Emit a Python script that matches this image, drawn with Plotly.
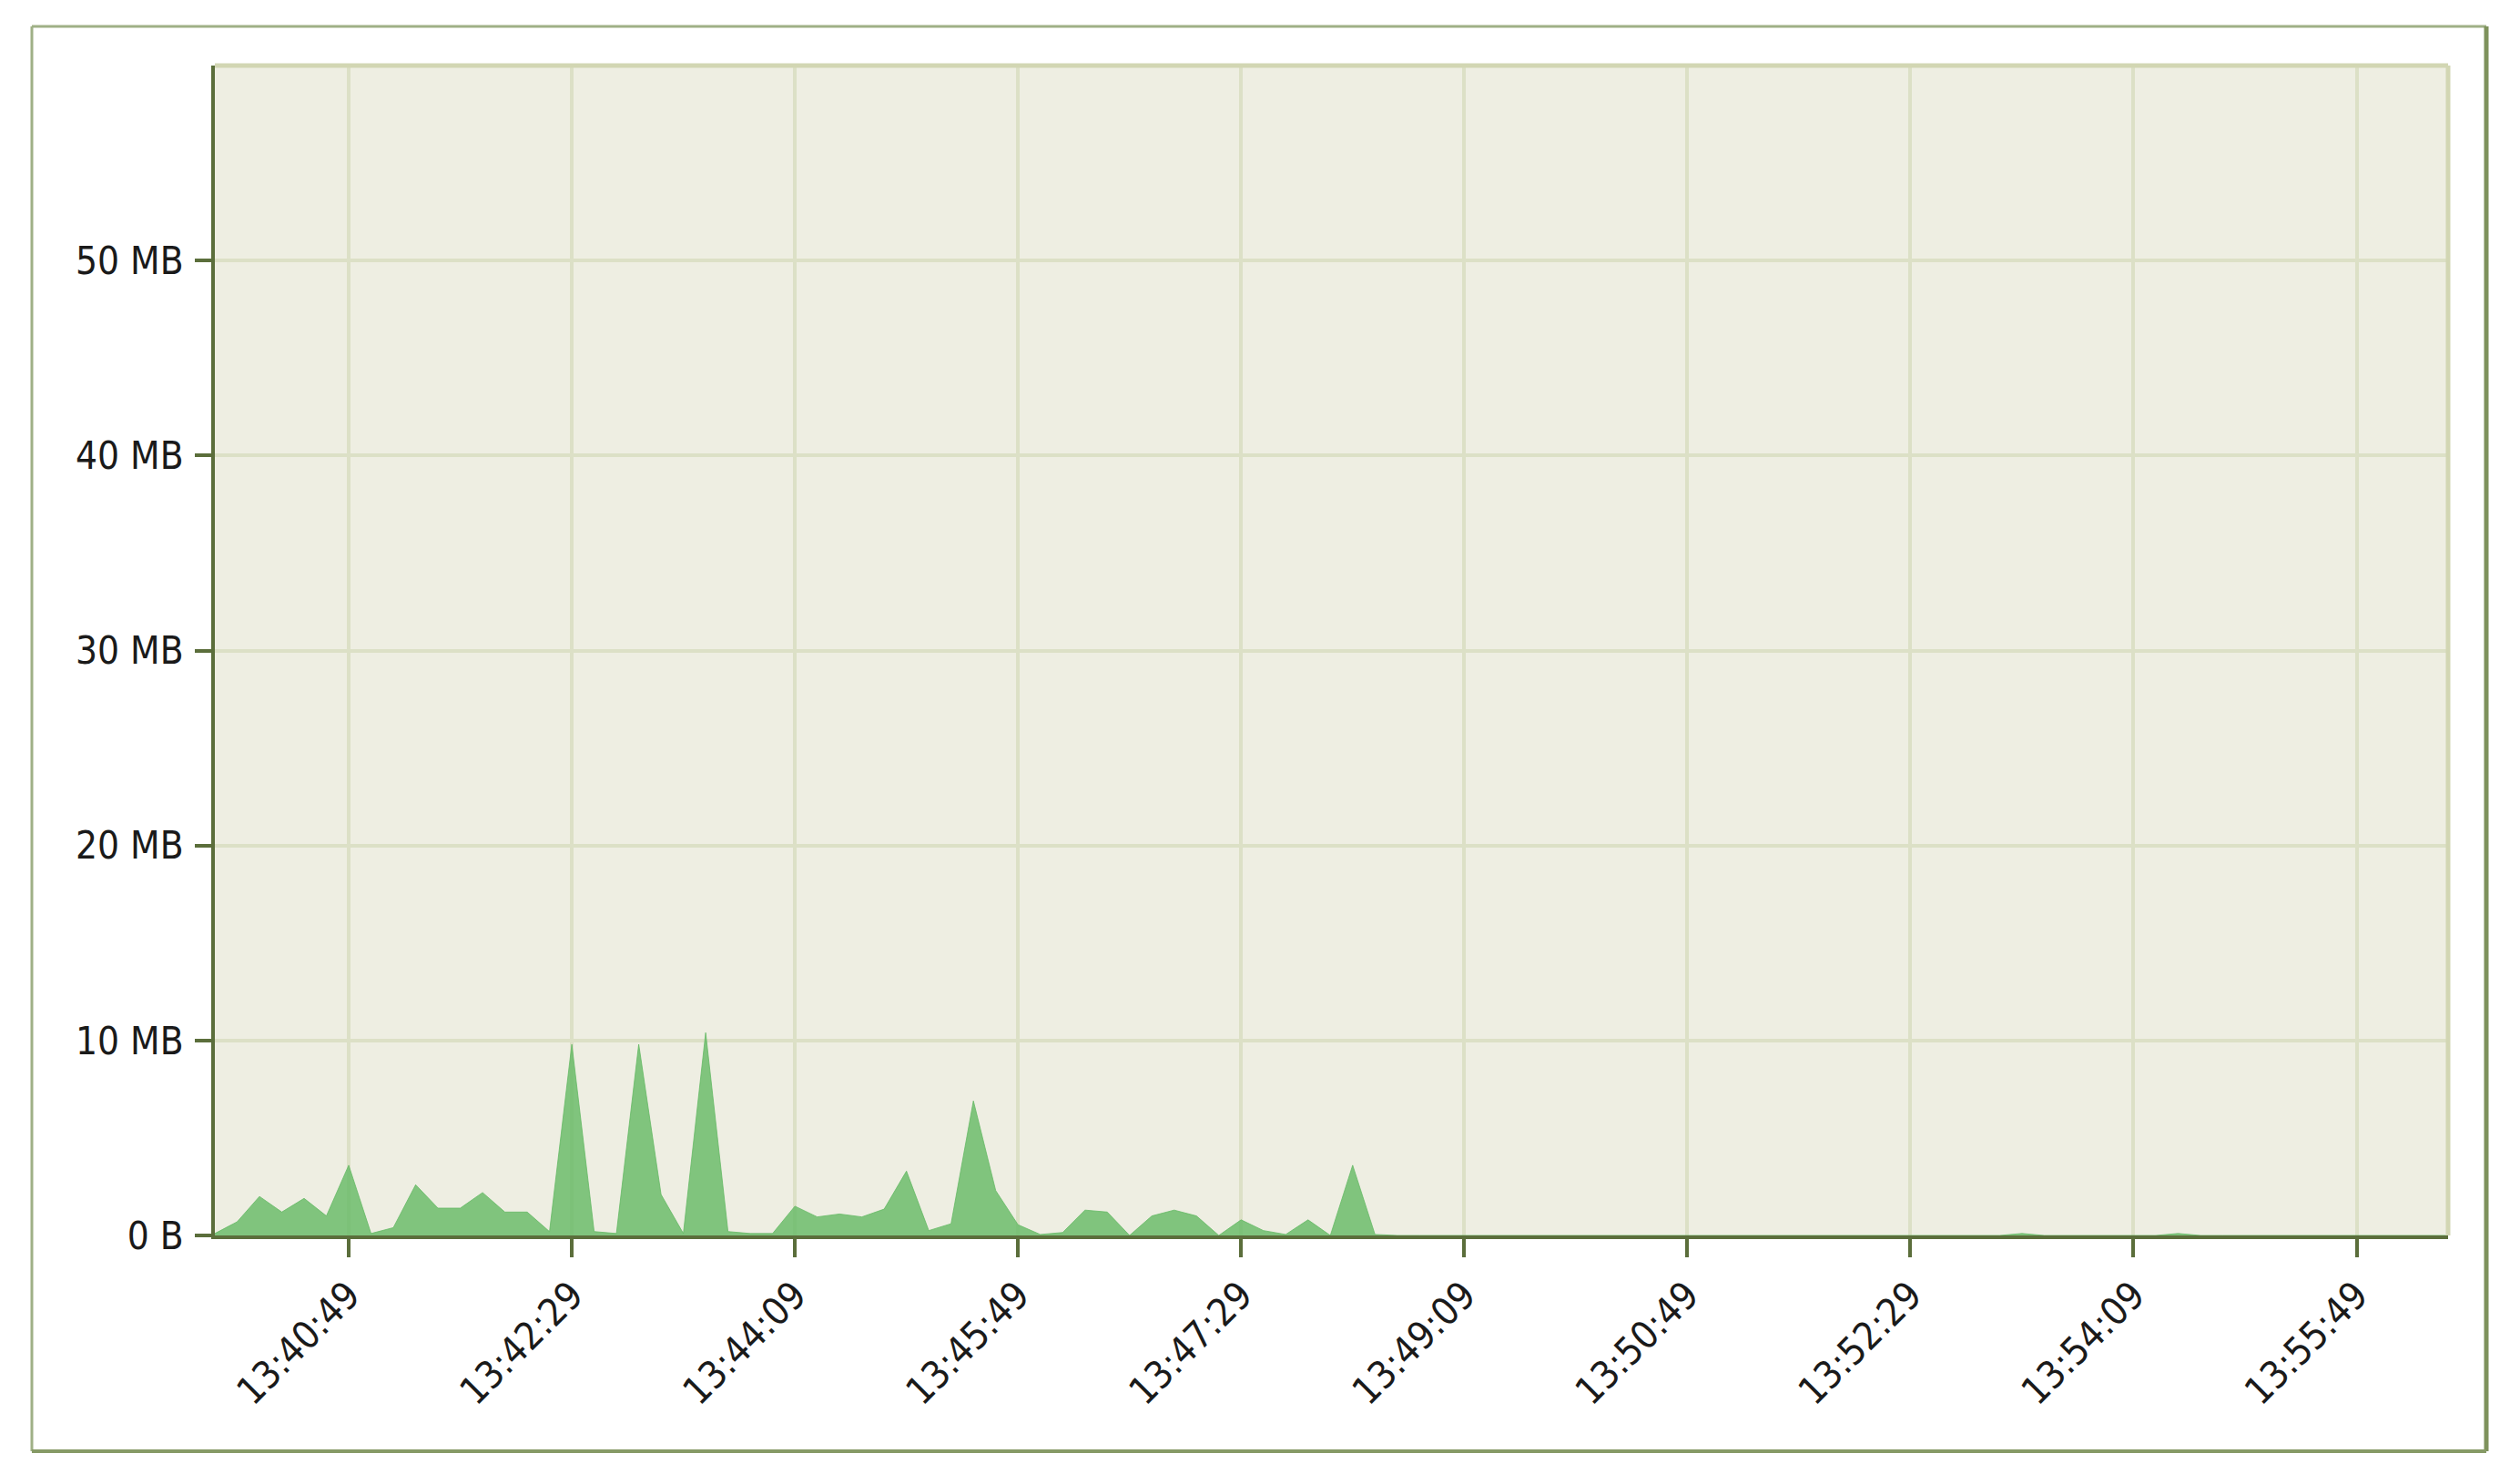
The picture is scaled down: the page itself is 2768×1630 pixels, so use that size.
import pandas as pd
import plotly.graph_objects as go

# ---- data ----
start_time = "2024-01-01 13:39:49"
sample_step = "10s"
traffic_mb = [
    0.1, 0.7, 2.0, 1.2, 1.9, 1.0, 3.6, 0.1, 0.4, 2.6,
    1.4, 1.4, 2.2, 1.2, 1.2, 0.2, 9.8, 0.2, 0.1, 9.8,
    2.1, 0.1, 10.4, 0.2, 0.1, 0.1, 1.5, 0.95, 1.1, 0.95,
    1.35, 3.3, 0.25, 0.6, 6.9, 2.3, 0.55, 0.05, 0.15, 1.3,
    1.2, 0.0, 1.0, 1.3, 1.0, 0.0, 0.8, 0.25, 0.05, 0.8,
    0.0, 3.6, 0.05, 0.0, 0.0, 0.0, 0.0, 0.0, 0.0, 0.0,
    0.0, 0.0, 0.0, 0.0, 0.0, 0.0, 0.0, 0.0, 0.0, 0.0,
    0.0, 0.0, 0.0, 0.0, 0.0, 0.0, 0.0, 0.0, 0.0, 0.0,
    0.0, 0.1, 0.0, 0.0, 0.0, 0.0, 0.0, 0.0, 0.1, 0.0,
    0.0, 0.0, 0.0, 0.0, 0.0, 0.0, 0.0, 0.0, 0.0, 0.0,
    0.0,
]
x_tick_labels = ["13:40:49", "13:42:29", "13:44:09", "13:45:49", "13:47:29",
                 "13:49:09", "13:50:49", "13:52:29", "13:54:09", "13:55:49"]
y_tick_values = [0, 10, 20, 30, 40, 50]
y_tick_labels = ["0 B", "10 MB", "20 MB", "30 MB", "40 MB", "50 MB"]
x_range = ["2024-01-01 13:39:49", "2024-01-01 13:56:30"]
y_range = [0, 60]

times = pd.date_range(start=start_time, periods=len(traffic_mb), freq=sample_step)
x_tick_vals = ["2024-01-01 " + t for t in x_tick_labels]

# ---- styling ----
OFF = 8  # body margin of the html page
W, H = 2768 - 2 * OFF, 1630 - 2 * OFF
# plot area in page pixels
L, R, T, B = 236, 2689, 72, 1357
AXIS = "#5B6E3B"
GRID = "#DCE0C6"
FONT = "DejaVu Sans Condensed, DejaVu Sans, Verdana, sans-serif"

fig = go.Figure()
fig.add_trace(go.Scatter(
    x=times, y=traffic_mb, mode="lines",
    line=dict(color="rgba(100,185,100,0.8)", width=1),
    fill="tozeroy", fillcolor="rgba(100,185,100,0.8)",
    hoverinfo="x+y", showlegend=False,
))

def px(xp):
    return (xp - L) / (R - L)

def py(yp):
    return (B - yp) / (B - T)

shapes = [
    dict(type="line", xref="paper", yref="paper", x0=0, x1=1, y0=1, y1=1,
         line=dict(color="#D2D6B3", width=5)),
    dict(type="line", xref="paper", yref="paper", x0=1, x1=1, y0=0, y1=1,
         line=dict(color="#D2D6B3", width=5)),
    dict(type="line", xref="paper", yref="paper", x0=px(35), x1=px(2731), y0=py(29), y1=py(29),
         line=dict(color="#9FB086", width=3)),
    dict(type="line", xref="paper", yref="paper", x0=px(35), x1=px(35), y0=py(29), y1=py(1594),
         line=dict(color="#9FB086", width=3)),
    dict(type="line", xref="paper", yref="paper", x0=px(2731), x1=px(2731), y0=py(29), y1=py(1594),
         line=dict(color="#7E925C", width=5)),
    dict(type="line", xref="paper", yref="paper", x0=px(35), x1=px(2731), y0=py(1594), y1=py(1594),
         line=dict(color="#869A66", width=4)),
]

fig.update_layout(
    width=W, height=H,
    margin=dict(l=L - OFF, r=W - (R - OFF), t=T - OFF, b=H - (B - OFF), autoexpand=False),
    paper_bgcolor="white",
    plot_bgcolor="#EEEEE2",
    font=dict(family=FONT, size=42, color="#1A1A1A"),
    shapes=shapes,
    xaxis=dict(
        type="date", range=x_range,
        tickmode="array", tickvals=x_tick_vals, ticktext=x_tick_labels,
        tickangle=-45, ticks="outside", ticklen=20, tickwidth=4, tickcolor=AXIS,
        showgrid=True, gridcolor=GRID, gridwidth=4,
        showline=True, linecolor=AXIS, linewidth=4, zeroline=False,
        tickfont=dict(family=FONT, size=42, color="#1A1A1A"),
    ),
    yaxis=dict(
        range=y_range,
        tickmode="array", tickvals=y_tick_values, ticktext=y_tick_labels,
        ticks="outside", ticklen=18, tickwidth=4, tickcolor=AXIS,
        showgrid=True, gridcolor=GRID, gridwidth=4,
        showline=True, linecolor=AXIS, linewidth=4, zeroline=False,
        tickfont=dict(family=FONT, size=42, color="#1A1A1A"),
        ticklabelstandoff=4,
    ),
)

fig.write_html("out.html")
